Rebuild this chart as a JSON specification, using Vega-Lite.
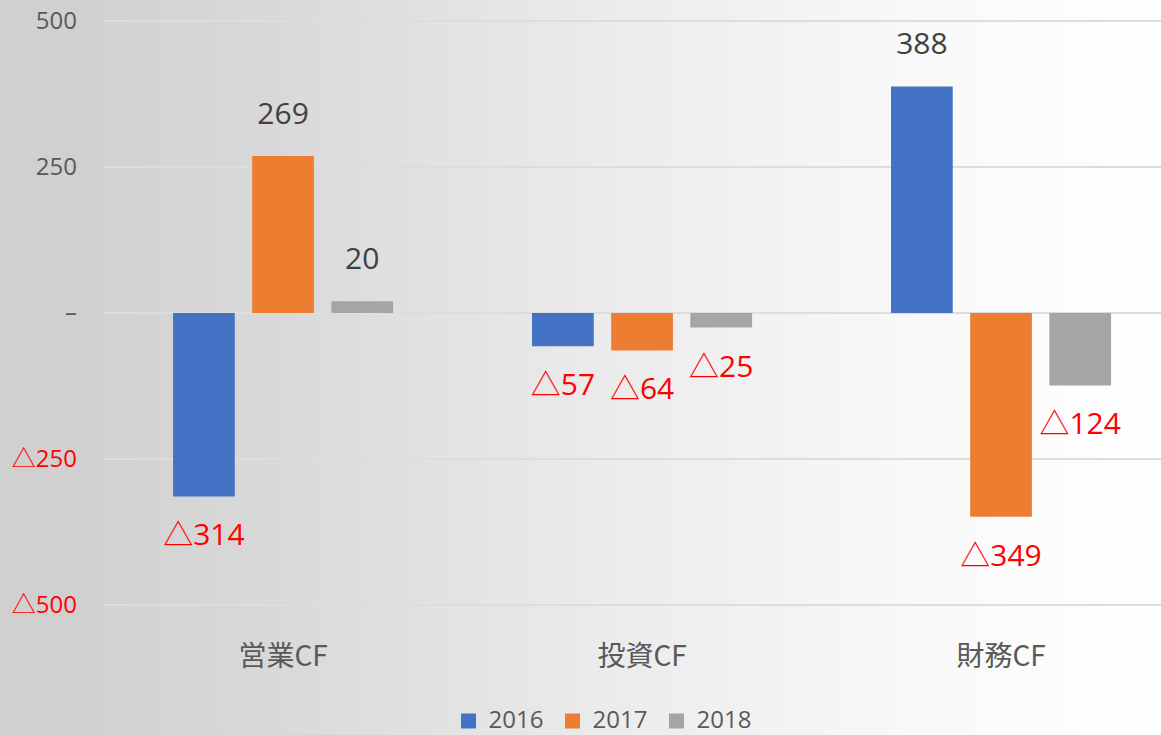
{
  "$schema": "https://vega.github.io/schema/vega-lite/v6.json",
  "width": 1057.5,
  "height": 735,
  "autosize": {"type": "none"},
  "padding": {"left": 103.5, "top": 0, "right": 0, "bottom": 0},
  "background": "#d0d0d0",
  "config": {"view": {"stroke": null}},
  "data": {
    "values": [
      {"cat": "営業CF", "year": "2016", "v": -314},
      {"cat": "営業CF", "year": "2017", "v": 269},
      {"cat": "営業CF", "year": "2018", "v": 20},
      {"cat": "投資CF", "year": "2016", "v": -57},
      {"cat": "投資CF", "year": "2017", "v": -64},
      {"cat": "投資CF", "year": "2018", "v": -25},
      {"cat": "財務CF", "year": "2016", "v": 388},
      {"cat": "財務CF", "year": "2017", "v": -349},
      {"cat": "財務CF", "year": "2018", "v": -124}
    ]
  },
  "encoding": {
    "x": {
      "field": "cat", "type": "nominal", "sort": ["営業CF", "投資CF", "財務CF"],
      "scale": {"paddingInner": 0.387, "paddingOuter": 0.1664, "align": 0.582},
      "axis": {
        "title": null, "orient": "bottom", "offset": -130, "domain": false, "ticks": false,
        "labelAngle": 0, "labelPadding": 38, "labelFont": "Noto Sans CJK JP", "labelFontSize": 28,
        "labelColor": "#595959", "grid": false, "zindex": 1
      }
    },
    "y": {
      "field": "v", "type": "quantitative",
      "scale": {"domain": [-722.6, 536], "nice": false, "zero": false},
      "axis": {
        "title": null, "values": [-500, -250, 0, 250, 500], "domain": false, "ticks": false,
        "labelPadding": 27, "labelFont": "Open Sans, Noto Sans CJK JP", "labelFontSize": 24,
        "labelExpr": "datum.value == 0 ? '–' : (datum.value < 0 ? '△' + format(-datum.value, 'd') : format(datum.value, 'd'))",
        "labelColor": {"condition": {"test": "datum.value < 0", "value": "#FF0000"}, "value": "#595959"},
        "grid": false, "zindex": 1
      }
    }
  },
  "layer": [
    {
      "data": {"values": [{}]},
      "mark": {
        "type": "rect",
        "fill": {
          "gradient": "linear", "x1": 0, "y1": 0, "x2": 1, "y2": 0,
          "stops": [
            {"offset": 0, "color": "#d2d2d2"},
            {"offset": 0.167, "color": "#d9d9d9"},
            {"offset": 0.47, "color": "#ebebeb"},
            {"offset": 0.753, "color": "#f8f8f8"},
            {"offset": 1, "color": "#ffffff"}
          ]
        }
      },
      "encoding": {"x": null, "y": null}
    },
    {
      "data": {"values": [{"g": -500}, {"g": -250}, {"g": 0}, {"g": 250}, {"g": 500}]},
      "mark": {"type": "rule", "color": "#dddddd", "strokeWidth": 2},
      "encoding": {"x": null, "y": {"field": "g", "type": "quantitative"}}
    },
    {
      "mark": {"type": "bar"},
      "encoding": {
        "xOffset": {"field": "year", "type": "nominal", "scale": {"paddingInner": 0.22, "paddingOuter": 0}},
        "color": {
          "field": "year", "type": "nominal",
          "scale": {"domain": ["2016", "2017", "2018"], "range": ["#4472C4", "#ED7D31", "#A5A5A5"]},
          "legend": {
            "title": null, "orient": "none", "direction": "horizontal", "legendX": 353, "legendY": 709,
            "symbolType": "square", "symbolSize": 225, "symbolStrokeWidth": 0,
            "labelFont": "Open Sans", "labelFontSize": 24, "labelColor": "#595959",
            "labelOffset": 8, "columnPadding": 17
          }
        }
      }
    },
    {
      "transform": [{"filter": "datum.v >= 0"}, {"calculate": "'' + datum.v", "as": "label"}],
      "mark": {"type": "text", "baseline": "bottom", "dy": -26, "font": "Open Sans, Noto Sans CJK JP", "fontSize": 30, "color": "#404040"},
      "encoding": {
        "xOffset": {"field": "year", "type": "nominal", "scale": {"paddingInner": 0.22, "paddingOuter": 0}},
        "text": {"field": "label"}
      }
    },
    {
      "transform": [{"filter": "datum.v < 0"}, {"calculate": "'△' + (-datum.v)", "as": "label"}],
      "mark": {"type": "text", "baseline": "top", "dy": 25, "font": "Open Sans, Noto Sans CJK JP", "fontSize": 30, "color": "#FF0000"},
      "encoding": {
        "xOffset": {"field": "year", "type": "nominal", "scale": {"paddingInner": 0.22, "paddingOuter": 0}},
        "text": {"field": "label"}
      }
    }
  ]
}
